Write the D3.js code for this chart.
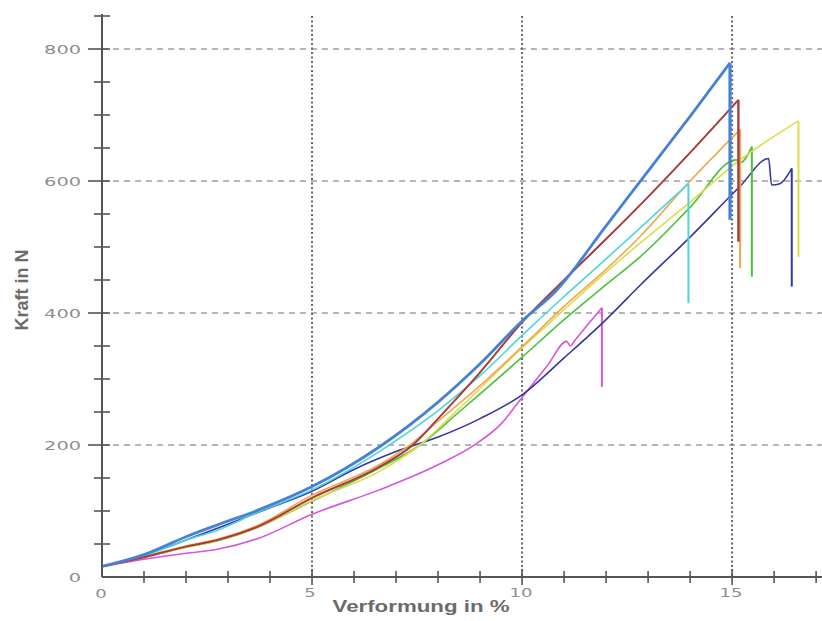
<!DOCTYPE html>
<html>
<head>
<meta charset="utf-8">
<script src="https://cdn.jsdelivr.net/npm/d3@7"></script>
<style>
  html, body { margin: 0; padding: 0; background: #fff; }
  svg { display: block; }
</style>
</head>
<body>
<div id="chart"></div>
<script>
// Kraft-Verformung: [Verformung %, Kraft N]
const blue = [[0,16],[1,34],[2,61],[2.75,79],[3.7,101],[5,137],[6.6,197],[8,265],[9,323],[10,388],[10.8,433],[12,532],[13,615],[14,698],[14.95,779],[14.95,541]];
const cyan = [[0,16],[1,32],[2,56],[2.75,71],[3.7,98],[5,132],[6.6,190],[8,252],[9,305],[10,366],[11,425],[12,482],[13,540],[13.96,596],[13.96,415]];
const brown = [[0,16],[1,30],[2,46],[2.75,56],[3.7,76],[5,120],[6.6,167],[7.4,200],[8,240],[9,310],[10,386],[11,450],[12,512],[13,576],[14,643],[15.15,723],[15.15,508]];
const orange = [[0,16],[1,31],[2,47],[2.75,57],[3.7,78],[5,124],[6.6,170],[7.33,200],[8,236],[9,290],[10,349],[11,410],[12,466],[12.81,516],[14,600],[15.19,678],[15.19,468]];
const yellow = [[0,16],[1,30],[2,45],[2.75,55],[3.7,75],[5,116],[6.6,160],[7.57,200],[8.5,255],[10,347],[11,405],[12,462],[12.81,506],[14,568],[15.19,632],[16.58,691],[16.58,485]];
const green = [[0,16],[1,30],[2,45],[2.75,55],[3.7,75],[5,115],[6.6,165],[7.57,200],[8.5,250],[10,333],[11,390],[12,443],[12.81,485],[14,560],[15.1,632],[15.2,628],[15.47,652],[15.47,455]];
const navy = [[0,16],[1,33],[2,56],[3,80],[4,105],[5,130],[6,163],[7,190],[8,212],[9,240],[10,276],[11,332],[12,390],[12.81,442],[14,515],[15.19,592],[15.87,634],[15.94,594],[16.14,596],[16.42,619],[16.42,440]];
const magenta = [[0,16],[1,27],[2,36],[2.75,42],[3.7,58],[5,95],[6.6,132],[8,170],[8.84,199],[9.5,232],[10,272],[10.6,320],[11.06,357],[11.15,350],[11.25,358],[11.9,408],[11.9,288]];

const xLabels = [0, 5, 10, 15];
const yLabels = [0, 200, 400, 600, 800];

const series = [
  { data: magenta, color: '#d656d8', width: 1.6 },
  { data: navy, color: '#3535a6', width: 1.6 },
  { data: green, color: '#48c23c', width: 1.6 },
  { data: yellow, color: '#dcdc4c', width: 1.6 },
  { data: orange, color: '#f0a84c', width: 1.6 },
  { data: cyan, color: '#4cd4dc', width: 1.6 },
  { data: brown, color: '#a83c3c', width: 2 },
  { data: blue, color: '#4682d4', width: 2.8 }
];

const W = 822, H = 621;
const x = d3.scaleLinear().domain([0, 17.14]).range([102, 822]);
const y = d3.scaleLinear().domain([0, 850]).range([577, 16]);

const svg = d3.select('#chart').append('svg')
  .attr('width', W)
  .attr('height', H)
  .attr('xmlns', 'http://www.w3.org/2000/svg');

svg.append('rect').attr('width', W).attr('height', H).attr('fill', '#fff');

// grid
svg.append('g').selectAll('line')
  .data(yLabels.filter(d => d > 0))
  .enter().append('line')
  .attr('x1', x(0)).attr('x2', W)
  .attr('y1', d => y(d)).attr('y2', d => y(d))
  .attr('stroke', '#6e6e6e')
  .attr('stroke-width', 1.2)
  .attr('stroke-dasharray', '6,5');

svg.append('g').selectAll('line')
  .data(xLabels.filter(d => d > 0))
  .enter().append('line')
  .attr('x1', d => x(d)).attr('x2', d => x(d))
  .attr('y1', y(850)).attr('y2', y(0))
  .attr('stroke', '#666')
  .attr('stroke-width', 2)
  .attr('stroke-dasharray', '2,2.5');

// curves
const rise = d3.line().x(d => x(d[0])).y(d => y(d[1])).curve(d3.curveMonotoneX);
const drop = d3.line().x(d => x(d[0])).y(d => y(d[1]));

const g = svg.append('g');
series.forEach(s => {
  const n = s.data.length;
  g.append('path')
    .attr('d', rise(s.data.slice(0, n - 1)))
    .attr('fill', 'none')
    .attr('stroke', s.color)
    .attr('stroke-width', s.width)
    .attr('stroke-linejoin', 'round');
  g.append('path')
    .attr('d', drop(s.data.slice(n - 2)))
    .attr('fill', 'none')
    .attr('stroke', s.color)
    .attr('stroke-width', s.width + 0.4);
});

// axes
const axisColor = '#555';
svg.append('line')
  .attr('x1', x(0)).attr('x2', x(0))
  .attr('y1', y(850) - 2).attr('y2', y(0))
  .attr('stroke', axisColor).attr('stroke-width', 2);
svg.append('line')
  .attr('x1', x(0)).attr('x2', W)
  .attr('y1', y(0)).attr('y2', y(0))
  .attr('stroke', axisColor).attr('stroke-width', 2);

svg.append('g').selectAll('line')
  .data(d3.range(50, 851, 50))
  .enter().append('line')
  .attr('x1', d => x(0) - (d % 200 === 0 ? 14 : 8))
  .attr('x2', x(0) + 8)
  .attr('y1', d => y(d)).attr('y2', d => y(d))
  .attr('stroke', axisColor).attr('stroke-width', 1.6);

svg.append('g').selectAll('line')
  .data(d3.range(1, 18, 1))
  .enter().append('line')
  .attr('x1', d => x(d)).attr('x2', d => x(d))
  .attr('y1', d => y(0) - (d % 5 === 0 ? 8 : 6))
  .attr('y2', d => y(0) + (d % 5 === 0 ? 8 : 6))
  .attr('stroke', axisColor).attr('stroke-width', 1.6);

// tick labels: short, wide digits
const labelColor = '#8e8e8e';
svg.append('g').selectAll('text')
  .data(yLabels)
  .enter().append('text')
  .attr('x', 81)
  .attr('y', d => y(d) + 4.5)
  .attr('text-anchor', 'end')
  .attr('textLength', d => String(d).length * 12.3)
  .attr('lengthAdjust', 'spacingAndGlyphs')
  .style('font-family', 'DejaVu Sans')
  .style('font-size', '12px')
  .attr('fill', labelColor)
  .text(d => d);

svg.append('g').selectAll('text')
  .data(xLabels)
  .enter().append('text')
  .attr('x', d => x(d) - (d === 5 ? 2 : 1))
  .attr('y', d => d === 0 ? 598 : 597)
  .attr('text-anchor', 'middle')
  .attr('textLength', d => String(d).length * 11.5)
  .attr('lengthAdjust', 'spacingAndGlyphs')
  .style('font-family', 'DejaVu Sans')
  .style('font-size', '12px')
  .attr('fill', labelColor)
  .text(d => d);

// axis titles
svg.append('text')
  .attr('transform', 'translate(28,290)rotate(-90)')
  .attr('text-anchor', 'middle')
  .style('font-family', 'Liberation Sans')
  .style('font-size', '18px')
  .style('font-weight', 'bold')
  .attr('fill', '#6b6b6b')
  .text('Kraft in N');

svg.append('text')
  .attr('x', 421)
  .attr('y', 612)
  .attr('text-anchor', 'middle')
  .attr('textLength', 177)
  .attr('lengthAdjust', 'spacingAndGlyphs')
  .style('font-family', 'Liberation Sans')
  .style('font-size', '17px')
  .style('font-weight', 'bold')
  .attr('fill', '#6b6b6b')
  .text('Verformung in %');
</script>
</body>
</html>
